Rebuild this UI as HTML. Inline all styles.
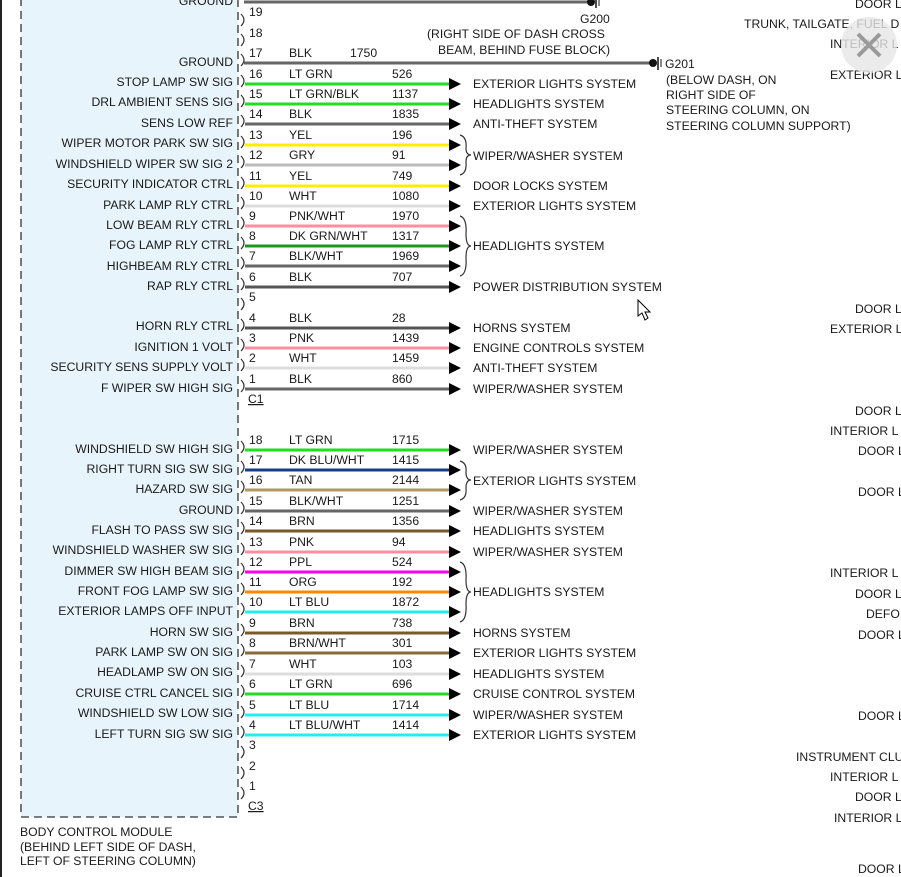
<!DOCTYPE html>
<html><head><meta charset="utf-8"><style>
html,body{margin:0;padding:0;background:#fff;width:901px;height:877px;overflow:hidden}
svg{display:block;font-family:"Liberation Sans",Arial,sans-serif;font-size:12.2px;fill:#1a1a1a}
.l{text-anchor:end}
.b{fill:none;stroke:#333;stroke-width:1.2}
.w{stroke-width:3}
</style></head><body>
<svg width="901" height="877" viewBox="0 0 901 877">
<rect x="0" y="0" width="2" height="877" fill="#222"/>
<rect x="21" y="-5" width="217" height="822" fill="#e8f4fc" stroke="#333" stroke-width="1.3" stroke-dasharray="8,5"/>
<line x1="244" y1="2" x2="588" y2="2" stroke="#666" class="w"/>
<circle cx="591" cy="2" r="4" fill="#111"/><line x1="596" y1="-4" x2="596" y2="8" stroke="#111" stroke-width="1.5"/><line x1="599" y1="-2" x2="599" y2="6" stroke="#111" stroke-width="1"/>
<text x="580" y="23">G200</text>
<text x="427" y="38">(RIGHT SIDE OF DASH CROSS</text>
<text x="438" y="54">BEAM, BEHIND FUSE BLOCK)</text>
<line x1="244" y1="63" x2="650" y2="63" stroke="#666" class="w"/>
<circle cx="653" cy="63" r="4" fill="#111"/><line x1="658" y1="57" x2="658" y2="70" stroke="#111" stroke-width="1.5"/><line x1="661" y1="59" x2="661" y2="67" stroke="#111" stroke-width="1"/>
<text x="665" y="68">G201</text>
<text x="666" y="84">(BELOW DASH, ON</text>
<text x="666" y="99">RIGHT SIDE OF</text>
<text x="666" y="114">STEERING COLUMN, ON</text>
<text x="666" y="130">STEERING COLUMN SUPPORT)</text>
<text class="l" x="233" y="5">GROUND</text>
<text x="249" y="16">19</text><path class="b" d="M241,14 Q247,20 241,26"/>
<text x="249" y="37">18</text><path class="b" d="M241,34 Q247,40 241,46"/>
<text x="249" y="57">17</text><path class="b" d="M241,54 Q247,60 241,66"/>
<text x="289" y="57">BLK</text><text x="350" y="57">1750</text>
<text class="l" x="233" y="66">GROUND</text>

<g>
<text x="249" y="78">16</text><text x="289" y="78">LT GRN</text><text x="392" y="78">526</text><text class="l" x="233" y="86">STOP LAMP SW SIG</text><path class="b" d="M241,75 Q247,81 241,87"/><line x1="245" y1="84" x2="450" y2="84" stroke="#22dd22" class="w"/><path d="M449,78 L461,84 L449,90Z" fill="#000"/><text x="473" y="88">EXTERIOR LIGHTS SYSTEM</text>
<text x="249" y="98">15</text><text x="289" y="98">LT GRN/BLK</text><text x="392" y="98">1137</text><text class="l" x="233" y="106">DRL AMBIENT SENS SIG</text><path class="b" d="M241,95 Q247,101 241,107"/><line x1="245" y1="104" x2="450" y2="104" stroke="#22dd22" class="w"/><path d="M449,98 L461,104 L449,110Z" fill="#000"/><text x="473" y="108">HEADLIGHTS SYSTEM</text>
<text x="249" y="118">14</text><text x="289" y="118">BLK</text><text x="392" y="118">1835</text><text class="l" x="233" y="127">SENS LOW REF</text><path class="b" d="M241,115 Q247,121 241,127"/><line x1="245" y1="124" x2="450" y2="124" stroke="#666" class="w"/><path d="M449,118 L461,124 L449,130Z" fill="#000"/><text x="473" y="128">ANTI-THEFT SYSTEM</text>
<text x="249" y="139">13</text><text x="289" y="139">YEL</text><text x="392" y="139">196</text><text class="l" x="233" y="147">WIPER MOTOR PARK SW SIG</text><path class="b" d="M241,136 Q247,142 241,148"/><line x1="245" y1="145" x2="450" y2="145" stroke="#ffee00" class="w"/><path d="M449,139 L461,145 L449,151Z" fill="#000"/>
<text x="249" y="159">12</text><text x="289" y="159">GRY</text><text x="392" y="159">91</text><text class="l" x="233" y="168">WINDSHIELD WIPER SW SIG 2</text><path class="b" d="M241,156 Q247,162 241,168"/><line x1="245" y1="165" x2="450" y2="165" stroke="#bbb" class="w"/><path d="M449,159 L461,165 L449,171Z" fill="#000"/>
<path class="b" d="M460,135 Q467,137 466,148 Q466,155 471,155 Q466,155 466,162 Q467,173 460,175"/><text x="473" y="160">WIPER/WASHER SYSTEM</text>
<text x="249" y="180">11</text><text x="289" y="180">YEL</text><text x="392" y="180">749</text><text class="l" x="233" y="188">SECURITY INDICATOR CTRL</text><path class="b" d="M241,177 Q247,183 241,189"/><line x1="245" y1="186" x2="450" y2="186" stroke="#ffee00" class="w"/><path d="M449,180 L461,186 L449,192Z" fill="#000"/><text x="473" y="190">DOOR LOCKS SYSTEM</text>
<text x="249" y="200">10</text><text x="289" y="200">WHT</text><text x="392" y="200">1080</text><text class="l" x="233" y="209">PARK LAMP RLY CTRL</text><path class="b" d="M241,197 Q247,203 241,209"/><line x1="245" y1="206" x2="450" y2="206" stroke="#ddd" class="w"/><path d="M449,200 L461,206 L449,212Z" fill="#000"/><text x="473" y="210">EXTERIOR LIGHTS SYSTEM</text>
<text x="249" y="220">9</text><text x="289" y="220">PNK/WHT</text><text x="392" y="220">1970</text><text class="l" x="233" y="229">LOW BEAM RLY CTRL</text><path class="b" d="M241,217 Q247,223 241,229"/><line x1="245" y1="226" x2="450" y2="226" stroke="#ff8fa0" class="w"/><path d="M449,220 L461,226 L449,232Z" fill="#000"/>
<text x="249" y="240">8</text><text x="289" y="240">DK GRN/WHT</text><text x="392" y="240">1317</text><text class="l" x="233" y="249">FOG LAMP RLY CTRL</text><path class="b" d="M241,237 Q247,243 241,249"/><line x1="245" y1="246" x2="450" y2="246" stroke="#1a9a1a" class="w"/><path d="M449,240 L461,246 L449,252Z" fill="#000"/>
<text x="249" y="260">7</text><text x="289" y="260">BLK/WHT</text><text x="392" y="260">1969</text><text class="l" x="233" y="270">HIGHBEAM RLY CTRL</text><path class="b" d="M241,257 Q247,263 241,269"/><line x1="245" y1="266" x2="450" y2="266" stroke="#666" class="w"/><path d="M449,260 L461,266 L449,272Z" fill="#000"/>
<path class="b" d="M460,216 Q467,218 466,234 Q466,246 471,246 Q466,246 466,258 Q467,274 460,276"/><text x="473" y="250">HEADLIGHTS SYSTEM</text>
<text x="249" y="281">6</text><text x="289" y="281">BLK</text><text x="392" y="281">707</text><text class="l" x="233" y="290">RAP RLY CTRL</text><path class="b" d="M241,278 Q247,284 241,290"/><line x1="245" y1="287" x2="450" y2="287" stroke="#555" class="w"/><path d="M449,281 L461,287 L449,293Z" fill="#000"/><text x="473" y="291">POWER DISTRIBUTION SYSTEM</text>
<text x="249" y="301">5</text><path class="b" d="M241,298 Q247,304 241,310"/>
<text x="249" y="322">4</text><text x="289" y="322">BLK</text><text x="392" y="322">28</text><text class="l" x="233" y="330">HORN RLY CTRL</text><path class="b" d="M241,319 Q247,325 241,331"/><line x1="245" y1="328" x2="450" y2="328" stroke="#555" class="w"/><path d="M449,322 L461,328 L449,334Z" fill="#000"/><text x="473" y="332">HORNS SYSTEM</text>
<text x="249" y="342">3</text><text x="289" y="342">PNK</text><text x="392" y="342">1439</text><text class="l" x="233" y="351">IGNITION 1 VOLT</text><path class="b" d="M241,339 Q247,345 241,351"/><line x1="245" y1="348" x2="450" y2="348" stroke="#ff8fa0" class="w"/><path d="M449,342 L461,348 L449,354Z" fill="#000"/><text x="473" y="352">ENGINE CONTROLS SYSTEM</text>
<text x="249" y="362">2</text><text x="289" y="362">WHT</text><text x="392" y="362">1459</text><text class="l" x="233" y="371">SECURITY SENS SUPPLY VOLT</text><path class="b" d="M241,359 Q247,365 241,371"/><line x1="245" y1="368" x2="450" y2="368" stroke="#ddd" class="w"/><path d="M449,362 L461,368 L449,374Z" fill="#000"/><text x="473" y="372">ANTI-THEFT SYSTEM</text>
<text x="249" y="383">1</text><text x="289" y="383">BLK</text><text x="392" y="383">860</text><text class="l" x="233" y="392">F WIPER SW HIGH SIG</text><path class="b" d="M241,380 Q247,386 241,392"/><line x1="245" y1="389" x2="450" y2="389" stroke="#666" class="w"/><path d="M449,383 L461,389 L449,395Z" fill="#000"/><text x="473" y="393">WIPER/WASHER SYSTEM</text>
<text x="248" y="403" text-decoration="underline">C1</text>
</g>

<g>
<text x="249" y="444">18</text><text x="289" y="444">LT GRN</text><text x="392" y="444">1715</text><text class="l" x="233" y="453">WINDSHIELD SW HIGH SIG</text><path class="b" d="M241,441 Q247,447 241,453"/><line x1="245" y1="450" x2="450" y2="450" stroke="#22dd22" class="w"/><path d="M449,444 L461,450 L449,456Z" fill="#000"/><text x="473" y="454">WIPER/WASHER SYSTEM</text>
<text x="249" y="464">17</text><text x="289" y="464">DK BLU/WHT</text><text x="392" y="464">1415</text><text class="l" x="233" y="473">RIGHT TURN SIG SW SIG</text><path class="b" d="M241,461 Q247,467 241,473"/><line x1="245" y1="470" x2="450" y2="470" stroke="#1a3a8a" class="w"/><path d="M449,464 L461,470 L449,476Z" fill="#000"/>
<text x="249" y="484">16</text><text x="289" y="484">TAN</text><text x="392" y="484">2144</text><text class="l" x="233" y="493">HAZARD SW SIG</text><path class="b" d="M241,481 Q247,487 241,493"/><line x1="245" y1="490" x2="450" y2="490" stroke="#b09a60" class="w"/><path d="M449,484 L461,490 L449,496Z" fill="#000"/>
<path class="b" d="M460,461 Q467,463 466,472 Q466,480 471,480 Q466,480 466,488 Q467,498 460,500"/><text x="473" y="485">EXTERIOR LIGHTS SYSTEM</text>
<text x="249" y="505">15</text><text x="289" y="505">BLK/WHT</text><text x="392" y="505">1251</text><text class="l" x="233" y="514">GROUND</text><path class="b" d="M241,502 Q247,508 241,514"/><line x1="245" y1="511" x2="450" y2="511" stroke="#666" class="w"/><path d="M449,505 L461,511 L449,517Z" fill="#000"/><text x="473" y="515">WIPER/WASHER SYSTEM</text>
<text x="249" y="525">14</text><text x="289" y="525">BRN</text><text x="392" y="525">1356</text><text class="l" x="233" y="534">FLASH TO PASS SW SIG</text><path class="b" d="M241,522 Q247,528 241,534"/><line x1="245" y1="531" x2="450" y2="531" stroke="#7a5a2a" class="w"/><path d="M449,525 L461,531 L449,537Z" fill="#000"/><text x="473" y="535">HEADLIGHTS SYSTEM</text>
<text x="249" y="546">13</text><text x="289" y="546">PNK</text><text x="392" y="546">94</text><text class="l" x="233" y="554">WINDSHIELD WASHER SW SIG</text><path class="b" d="M241,543 Q247,549 241,555"/><line x1="245" y1="552" x2="450" y2="552" stroke="#ff8fa0" class="w"/><path d="M449,546 L461,552 L449,558Z" fill="#000"/><text x="473" y="556">WIPER/WASHER SYSTEM</text>
<text x="249" y="566">12</text><text x="289" y="566">PPL</text><text x="392" y="566">524</text><text class="l" x="233" y="575">DIMMER SW HIGH BEAM SIG</text><path class="b" d="M241,563 Q247,569 241,575"/><line x1="245" y1="572" x2="450" y2="572" stroke="#ff00ee" class="w"/><path d="M449,566 L461,572 L449,578Z" fill="#000"/>
<text x="249" y="586">11</text><text x="289" y="586">ORG</text><text x="392" y="586">192</text><text class="l" x="233" y="595">FRONT FOG LAMP SW SIG</text><path class="b" d="M241,583 Q247,589 241,595"/><line x1="245" y1="592" x2="450" y2="592" stroke="#ff8800" class="w"/><path d="M449,586 L461,592 L449,598Z" fill="#000"/>
<text x="249" y="606">10</text><text x="289" y="606">LT BLU</text><text x="392" y="606">1872</text><text class="l" x="233" y="615">EXTERIOR LAMPS OFF INPUT</text><path class="b" d="M241,603 Q247,609 241,615"/><line x1="245" y1="612" x2="450" y2="612" stroke="#22eeee" class="w"/><path d="M449,606 L461,612 L449,618Z" fill="#000"/>
<path class="b" d="M460,562 Q467,564 466,580 Q466,592 471,592 Q466,592 466,604 Q467,620 460,622"/><text x="473" y="596">HEADLIGHTS SYSTEM</text>
<text x="249" y="627">9</text><text x="289" y="627">BRN</text><text x="392" y="627">738</text><text class="l" x="233" y="636">HORN SW SIG</text><path class="b" d="M241,624 Q247,630 241,636"/><line x1="245" y1="633" x2="450" y2="633" stroke="#7a5a2a" class="w"/><path d="M449,627 L461,633 L449,639Z" fill="#000"/><text x="473" y="637">HORNS SYSTEM</text>
<text x="249" y="647">8</text><text x="289" y="647">BRN/WHT</text><text x="392" y="647">301</text><text class="l" x="233" y="656">PARK LAMP SW ON SIG</text><path class="b" d="M241,644 Q247,650 241,656"/><line x1="245" y1="653" x2="450" y2="653" stroke="#8a6a3a" class="w"/><path d="M449,647 L461,653 L449,659Z" fill="#000"/><text x="473" y="657">EXTERIOR LIGHTS SYSTEM</text>
<text x="249" y="668">7</text><text x="289" y="668">WHT</text><text x="392" y="668">103</text><text class="l" x="233" y="676">HEADLAMP SW ON SIG</text><path class="b" d="M241,665 Q247,671 241,677"/><line x1="245" y1="674" x2="450" y2="674" stroke="#ddd" class="w"/><path d="M449,668 L461,674 L449,680Z" fill="#000"/><text x="473" y="678">HEADLIGHTS SYSTEM</text>
<text x="249" y="688">6</text><text x="289" y="688">LT GRN</text><text x="392" y="688">696</text><text class="l" x="233" y="697">CRUISE CTRL CANCEL SIG</text><path class="b" d="M241,685 Q247,691 241,697"/><line x1="245" y1="694" x2="450" y2="694" stroke="#22dd22" class="w"/><path d="M449,688 L461,694 L449,700Z" fill="#000"/><text x="473" y="698">CRUISE CONTROL SYSTEM</text>
<text x="249" y="709">5</text><text x="289" y="709">LT BLU</text><text x="392" y="709">1714</text><text class="l" x="233" y="717">WINDSHIELD SW LOW SIG</text><path class="b" d="M241,706 Q247,712 241,718"/><line x1="245" y1="715" x2="450" y2="715" stroke="#22eeee" class="w"/><path d="M449,709 L461,715 L449,721Z" fill="#000"/><text x="473" y="719">WIPER/WASHER SYSTEM</text>
<text x="249" y="729">4</text><text x="289" y="729">LT BLU/WHT</text><text x="392" y="729">1414</text><text class="l" x="233" y="738">LEFT TURN SIG SW SIG</text><path class="b" d="M241,726 Q247,732 241,738"/><line x1="245" y1="735" x2="450" y2="735" stroke="#22eeee" class="w"/><path d="M449,729 L461,735 L449,741Z" fill="#000"/><text x="473" y="739">EXTERIOR LIGHTS SYSTEM</text>
<text x="249" y="749">3</text><path class="b" d="M241,746 Q247,752 241,758"/>
<text x="249" y="770">2</text><path class="b" d="M241,767 Q247,773 241,779"/>
<text x="249" y="790">1</text><path class="b" d="M241,787 Q247,793 241,799"/>
<text x="248" y="810" text-decoration="underline">C3</text>
</g>
<text x="20" y="836">BODY CONTROL MODULE</text>
<text x="20" y="851">(BEHIND LEFT SIDE OF DASH,</text>
<text x="20" y="865">LEFT OF STEERING COLUMN)</text>

<text x="855" y="8">DOOR L</text>
<text x="744" y="28">TRUNK, TAILGATE, FUEL D</text>
<text x="830" y="48">INTERIOR L</text>
<text x="830" y="79">EXTERIOR L</text>
<circle cx="869" cy="45" r="28" fill="#e6e6e6" opacity="0.8"/>
<path d="M858,34 L880,56 M880,34 L858,56" stroke="#9a9a9a" stroke-width="4"/>
<text x="855" y="313">DOOR L</text>
<text x="830" y="333">EXTERIOR L</text>
<text x="855" y="415">DOOR L</text>
<text x="830" y="435">INTERIOR L</text>
<text x="858" y="455">DOOR L</text>
<text x="858" y="496">DOOR L</text>
<text x="830" y="577">INTERIOR L</text>
<text x="855" y="598">DOOR L</text>
<text x="866" y="618">DEFO</text>
<text x="858" y="639">DOOR L</text>
<text x="858" y="720">DOOR L</text>
<text x="796" y="761">INSTRUMENT CLU</text>
<text x="830" y="781">INTERIOR L</text>
<text x="855" y="801">DOOR L</text>
<text x="834" y="822">INTERIOR L</text>
<text x="858" y="873">DOOR L</text>
<path d="M638,300 L638,316 L642,313 L645,320 L648,318 L645,312 L650,312Z" fill="#fff" stroke="#000" stroke-width="1"/>
</svg>
</body></html>
